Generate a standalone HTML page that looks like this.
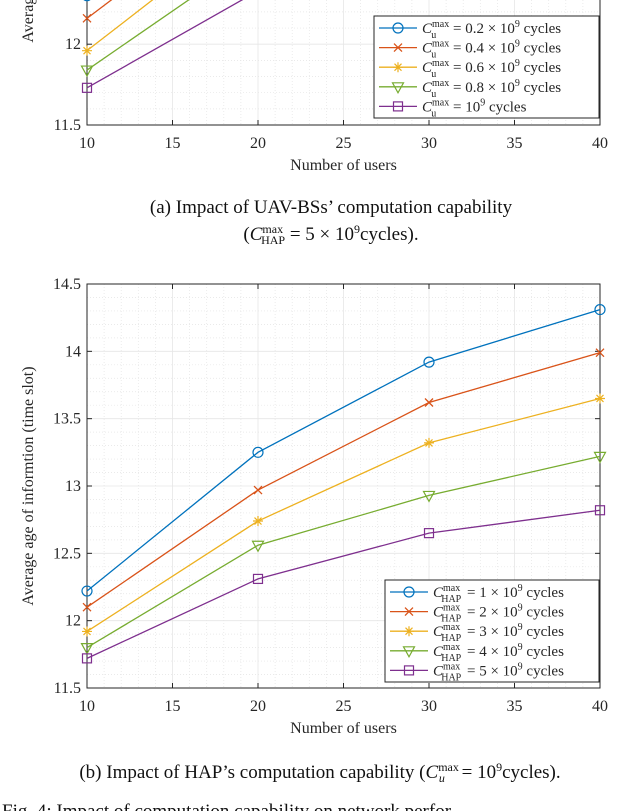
<!DOCTYPE html>
<html><head><meta charset="utf-8"><style>
html,body{margin:0;padding:0;background:#fff;}
body{width:640px;height:811px;overflow:hidden;position:relative;font-family:"Liberation Serif",serif;}
svg{position:absolute;left:0;top:0;}
</style></head><body>
<svg id="fig" width="640" height="811" viewBox="0 0 640 811"></svg>
<script>
const xCats=[10,20,30,40];
const aBlue=[12.30,13.20,13.85,14.25];
const aRed=[12.16,12.96,13.55,13.95];
const aYellow=[11.96,12.78,13.30,13.62];
const aGreen=[11.84,12.57,12.92,13.20];
const aPurple=[11.73,12.33,12.64,12.80];
const bBlue=[12.22,13.25,13.92,14.31];
const bRed=[12.10,12.97,13.62,13.99];
const bYellow=[11.92,12.74,13.32,13.65];
const bGreen=[11.80,12.56,12.93,13.22];
const bPurple=[11.72,12.31,12.65,12.82];
const xTicks=[10,15,20,25,30,35,40];
const aYTicks=[11.5,12,12.5,13,13.5,14];
const bYTicks=[11.5,12,12.5,13,13.5,14,14.5];
const aLegend=["0.2 \u00d7 10","0.4 \u00d7 10","0.6 \u00d7 10","0.8 \u00d7 10","10"];
const bLegend=["1 \u00d7 10","2 \u00d7 10","3 \u00d7 10","4 \u00d7 10","5 \u00d7 10"];
const colors=["#0072BD","#D95319","#EDB120","#77AC30","#7E2F8E"];
const markers=["circle","x","star","tri","square"];
const NS="http://www.w3.org/2000/svg";
const svg=document.getElementById('fig');
function el(tag,attrs,parent){const e=document.createElementNS(NS,tag);for(const k in attrs)e.setAttribute(k,attrs[k]);(parent||svg).appendChild(e);return e;}
function marker(g,type,x,y,c){
  const s=5;
  if(type==="circle")return el('circle',{cx:x,cy:y,r:s,fill:'none',stroke:c,'stroke-width':1.2},g);
  if(type==="square")return el('rect',{x:x-4.5,y:y-4.5,width:9,height:9,fill:'none',stroke:c,'stroke-width':1.2},g);
  if(type==="tri")return el('polygon',{points:`${x-5.5},${y-4} ${x+5.5},${y-4} ${x},${y+6}`,fill:'none',stroke:c,'stroke-width':1.2},g);
  if(type==="x")return el('path',{d:`M${x-4},${y-4}L${x+4},${y+4}M${x-4},${y+4}L${x+4},${y-4}`,stroke:c,'stroke-width':1.3},g);
  return el('path',{d:`M${x-5},${y}L${x+5},${y}M${x},${y-5}L${x},${y+5}M${x-3.5},${y-3.5}L${x+3.5},${y+3.5}M${x-3.5},${y+3.5}L${x+3.5},${y-3.5}`,stroke:c,'stroke-width':1.2},g);
}
function chart(name,bottom,ymin,ymax,yTicks,series,legendTxt,sub,legBox){
  const L=87,R=600,top=bottom-404;
  const X=v=>L+(v-10)/30*(R-L);
  const Y=v=>bottom-(v-ymin)/(ymax-ymin)*(bottom-top);
  const g=el('g',{});
  
  
  for(let v=11;v<40;v++){if(v%5===0)continue;el('line',{x1:X(v),x2:X(v),y1:top,y2:bottom,stroke:'#e4e4e4','stroke-width':0.7,'stroke-dasharray':'1,2'},g);}
  for(let v=ymin+0.1;v<ymax-0.01;v+=0.1){if(Math.abs((v*2)-Math.round(v*2))<0.01)continue;el('line',{x1:L,x2:R,y1:Y(v),y2:Y(v),stroke:'#e4e4e4','stroke-width':0.7,'stroke-dasharray':'1,2'},g);}
  xTicks.forEach(v=>{el('line',{x1:X(v),x2:X(v),y1:top,y2:bottom,stroke:'#e6e6e6','stroke-width':0.8},g);
    el('line',{x1:X(v),x2:X(v),y1:bottom,y2:bottom-5,stroke:'#262626'},g);el('line',{x1:X(v),x2:X(v),y1:top,y2:top+5,stroke:'#262626'},g);
    const t=el('text',{x:X(v),y:bottom+23,'text-anchor':'middle','font-size':16,fill:'#262626'},g);t.textContent=v;
    });
  yTicks.forEach(v=>{el('line',{x1:L,x2:R,y1:Y(v),y2:Y(v),stroke:'#e6e6e6','stroke-width':0.8},g);
    el('line',{x1:L,x2:L+5,y1:Y(v),y2:Y(v),stroke:'#262626'},g);el('line',{x1:R,x2:R-5,y1:Y(v),y2:Y(v),stroke:'#262626'},g);
    const t=el('text',{x:L-6,y:Y(v)+5,'text-anchor':'end','font-size':16,fill:'#262626'},g);t.textContent=v;
    });
  el('rect',{x:L,y:top,width:R-L,height:bottom-top,fill:'none',stroke:'#262626','stroke-width':1},g);
  series.forEach((s,i)=>{
    const sg=el('g',{},g);
    
    
    el('polyline',{points:xCats.map((x,j)=>X(x)+','+Y(s[j])).join(' '),fill:'none',stroke:colors[i],'stroke-width':1.3},sg);
    xCats.forEach((x,j)=>marker(sg,markers[i],X(x),Y(s[j]),colors[i]));
  });
  const xl=el('text',{x:(L+R)/2,y:bottom+45,'text-anchor':'middle','font-size':16,fill:'#262626'},g);
  xl.textContent='Number of users';
  
  const yl=el('text',{x:0,y:0,'text-anchor':'middle','font-size':16,fill:'#262626',transform:`translate(33,${(top+bottom)/2}) rotate(-90)`},g);
  yl.textContent='Average age of informtion (time slot)';
  
  const lg=el('g',{},g);
  
  el('rect',{x:legBox[0],y:legBox[1],width:R-1-legBox[0],height:legBox[2],fill:'#fff',stroke:'#262626','stroke-width':1},lg);
  legendTxt.forEach((t,i)=>{
    const y=legBox[1]+12+i*19.6;
    const e=el('g',{},lg);
    
    el('line',{x1:legBox[0]+5,x2:legBox[0]+43,y1:y,y2:y,stroke:colors[i],'stroke-width':1.3},e);
    marker(e,markers[i],legBox[0]+24,y,colors[i]);
    const tx=el('text',{x:legBox[0]+48,y:y+5,'font-size':15,fill:'#262626'},e);
    const c=el('tspan',{'font-style':'italic'},tx);c.textContent='C';
    const sp=el('tspan',{dy:-6,'font-size':10},tx);sp.textContent='max';
    const sb=el('tspan',{dx:(sub==='u'?-18:-19),dy:11,'font-size':10},tx);sb.textContent=sub;
    const r=el('tspan',{dx:(sub==='u'?13:2),dy:-5},tx);r.textContent=' = '+t;
    const n=el('tspan',{dy:-6,'font-size':10},tx);n.textContent='9';
    const cy=el('tspan',{dy:6},tx);cy.textContent=' cycles';
  });
}
chart('chart-a',125,11.5,14,aYTicks,[aBlue,aRed,aYellow,aGreen,aPurple],aLegend,'u',[374,16,102]);
chart('chart-b',688,11.5,14.5,bYTicks,[bBlue,bRed,bYellow,bGreen,bPurple],bLegend,'HAP',[385,580,102]);
function cap(x,y,txt,name){const t=el('text',{x:x,y:y,'text-anchor':'middle','font-size':19,fill:'#111'});t.textContent=txt;return t;}
cap(331,213,'(a) Impact of UAV-BSs\u2019 computation capability','caption-a-line1');
const c2=cap(331,240,'','caption-a-line2');
c2.innerHTML='(<tspan font-style="italic">C</tspan><tspan font-size="12" dy="-7">max</tspan><tspan font-size="12" dx="-22" dy="11">HAP</tspan><tspan dy="-4"> = 5 \u00d7 10</tspan><tspan font-size="12" dy="-7">9</tspan><tspan dy="7">cycles).</tspan>';
const c3=cap(320,778,'','caption-b');
c3.innerHTML='(b) Impact of HAP\u2019s computation capability (<tspan font-style="italic">C</tspan><tspan font-size="12" dy="-7">max</tspan><tspan font-size="12" font-style="italic" dx="-20" dy="11">u</tspan><tspan dx="12" dy="-4"> = 10</tspan><tspan font-size="12" dy="-7">9</tspan><tspan dy="7">cycles).</tspan>';
const f=el('text',{x:2,y:817,'font-size':19,fill:'#111'});
f.textContent='Fig. 4: Impact of computation capability on network perfor';

</script>
</body></html>
